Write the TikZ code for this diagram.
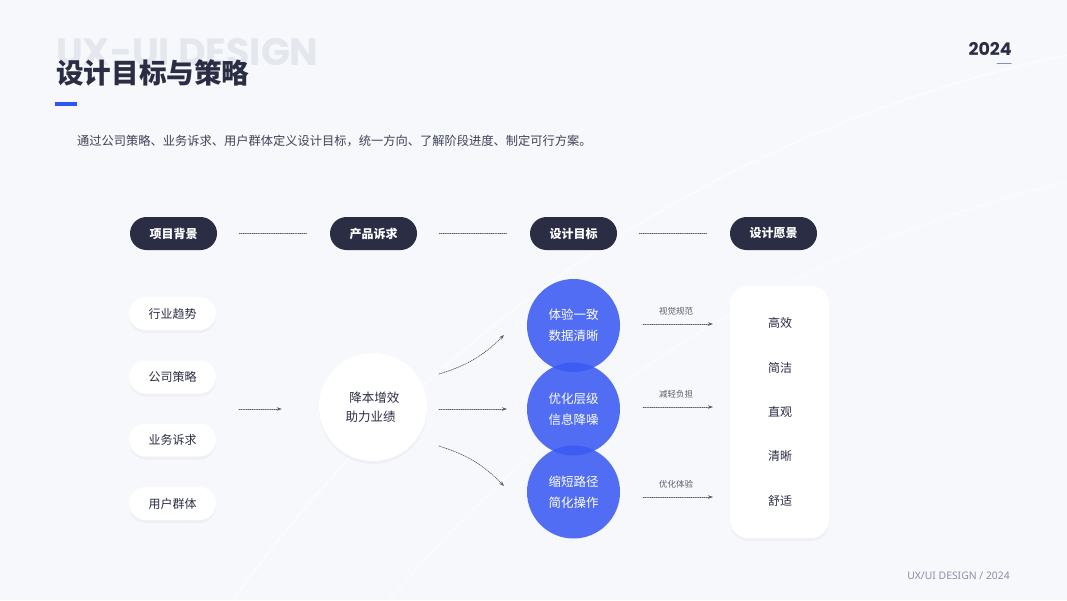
\documentclass[tikz,border=0pt]{standalone}
\usepackage{fontspec}
\setmainfont{Noto Sans CJK SC}
\newfontfamily\popfont{Poppins}
\newfontfamily\latfont{Noto Sans}
\usetikzlibrary{arrows.meta}
\definecolor{navy}{HTML}{2B2D45}
\definecolor{bgblue}{HTML}{F3F6FC}
\definecolor{wmgray}{HTML}{E4E7EE}
\definecolor{mainblue}{HTML}{3A5AF3}
\definecolor{barblue}{HTML}{2F55F0}
\definecolor{linegray}{HTML}{5A5D6A}
\definecolor{softgray}{HTML}{8C90A6}
\tikzset{
  softshadow/.style={preaction={fill=navy!35!bgblue, opacity=0.10, transform canvas={yshift=-3pt}}},
  pillbase/.style={rounded corners=16.5pt, minimum width=87pt, minimum height=33pt, inner sep=0pt},
  headpill/.style={pillbase, fill=navy, text=white, font=\fontsize{12}{14}\selectfont\bfseries},
  whitepill/.style={pillbase, softshadow, fill=white, text=navy, font=\fontsize{12}{14}\selectfont},
  goalcircle/.style={circle, fill=mainblue, fill opacity=0.88, text opacity=1, text=white,
    minimum size=93pt, inner sep=0pt, align=center, font=\fontsize{12.5}{21}\selectfont},
  dotline/.style={draw=linegray, line width=0.75pt, dash pattern=on 0.75pt off 1.1pt},
  dotarrow/.style={dotline, -{Stealth[length=5pt,width=3.5pt]}},
  lbl/.style={text=linegray, font=\fontsize{8.5}{10}\selectfont, inner sep=0pt},
  vision/.style={text=navy, font=\fontsize{12}{14}\selectfont, inner sep=0pt},
}
\begin{document}
\begin{tikzpicture}[x=1pt, y=-1pt, line cap=round, line join=round]
  \useasboundingbox (0,0) rectangle (1067,600);
  % background
  \fill[bgblue] (0,0) rectangle (1067,600);
  \begin{scope}
    \clip (0,0) rectangle (1067,600);
    \fill[white, opacity=0.30] (1350,1400) circle[radius=1500pt] (0,0) rectangle (1067,600);
    \draw[white, line width=1.4pt, opacity=0.6] (1350,1400) circle[radius=1374pt];
    \draw[white, line width=1.4pt, opacity=0.5] (1350,1400) circle[radius=1250pt];
    \draw[white, line width=1.2pt, opacity=0.4] (-300,1400) circle[radius=1000pt];
  \end{scope}

  % heading
  \node[anchor=base west, inner sep=0pt, text=wmgray, font=\fontsize{38}{42}\selectfont\popfont\bfseries] (wm) at (56,65) {UX-UI DESIGN};
  \node[anchor=west, inner sep=0pt, text=navy, font=\fontsize{27.6}{30}\selectfont\bfseries] (title) at (56,73) {设计目标与策略};
  \fill[barblue] (55,102) rectangle (77,106);
  \node[anchor=east, inner sep=0pt, text=navy, font=\fontsize{17.5}{20}\selectfont\popfont\bfseries] (year) at (1012,48.5) {2024};
  \draw[softgray, line width=1pt] (997,63) -- (1011,63);
  \node[anchor=west, inner sep=0pt, text=navy!90, font=\fontsize{12.25}{14}\selectfont] (sub) at (77,141)
    {通过公司策略、业务诉求、用户群体定义设计目标，统一方向、了解阶段进度、制定可行方案。};

  % header row
  \foreach \n/\x/\t in {H1/173.5/项目背景, H2/373.5/产品诉求, H3/573.5/设计目标, H4/773.5/设计愿景}
    \node[headpill] (\n) at (\x,233.5) {\t};
  \foreach \a/\b in {H1/H2, H2/H3, H3/H4}
    \draw[dotline] ([xshift=22pt]\a.east) -- ([xshift=-23pt]\b.west);

  % background items
  \foreach \n/\y/\t in {L1/313.5/行业趋势, L2/377/公司策略, L3/440/业务诉求, L4/503.5/用户群体}
    \node[whitepill] (\n) at (172.5,\y) {\t};

  % core circle
  \node[circle, softshadow, fill=white, minimum size=108pt, inner sep=0pt, align=center, text=navy,
    font=\fontsize{12.5}{19}\selectfont] (C) at (373,407) {\ 降本增效\\助力业绩\ \,};
  \coordinate (in) at (239,409);
  \draw[dotarrow] (in) -- ([xshift=-37pt]C.west |- in);

  % goal circles
  \node[goalcircle] (B1) at (573.5,325.5) {体验一致\\数据清晰};
  \node[goalcircle] (B2) at (573.5,409) {优化层级\\信息降噪};
  \node[goalcircle] (B3) at (573.5,492) {缩短路径\\简化操作};

  \coordinate (a1) at (439,374); \coordinate (b1) at (504,335);
  \coordinate (a2) at (439,409); \coordinate (b2) at (507,409);
  \coordinate (a3) at (439,446); \coordinate (b3) at (504,486);
  \draw[dotarrow] (a1) to[bend right=14] (b1);
  \draw[dotarrow] (a2) -- (b2);
  \draw[dotarrow] (a3) to[bend left=14] (b3);

  % vision card
  \node[softshadow, fill=white, rounded corners=18pt, minimum width=99pt, minimum height=252pt, inner sep=0pt]
    (R) at (779.5,412) {};
  \foreach \n/\y/\t in {V1/323/高效, V2/368/简洁, V3/412/直观, V4/456/清晰, V5/501/舒适}
    \node[vision] (\n) at (780,\y) {\t};

  \foreach \s/\e/\y/\t in {s1/e1/324/视觉规范, s2/e2/407/减轻负担, s3/e3/497/优化体验}{
    \coordinate (\s) at (643,\y); \coordinate (\e) at (713,\y);
    \draw[dotarrow] (\s) -- (\e) node[lbl, midway, above=8pt, xshift=-2pt] {\t};}

  % footer
  \node[anchor=east, inner sep=0pt, text=softgray, font=\fontsize{10.4}{12}\selectfont\latfont] (foot) at (1010,576) {UX/UI DESIGN / 2024};
\end{tikzpicture}
\end{document}
